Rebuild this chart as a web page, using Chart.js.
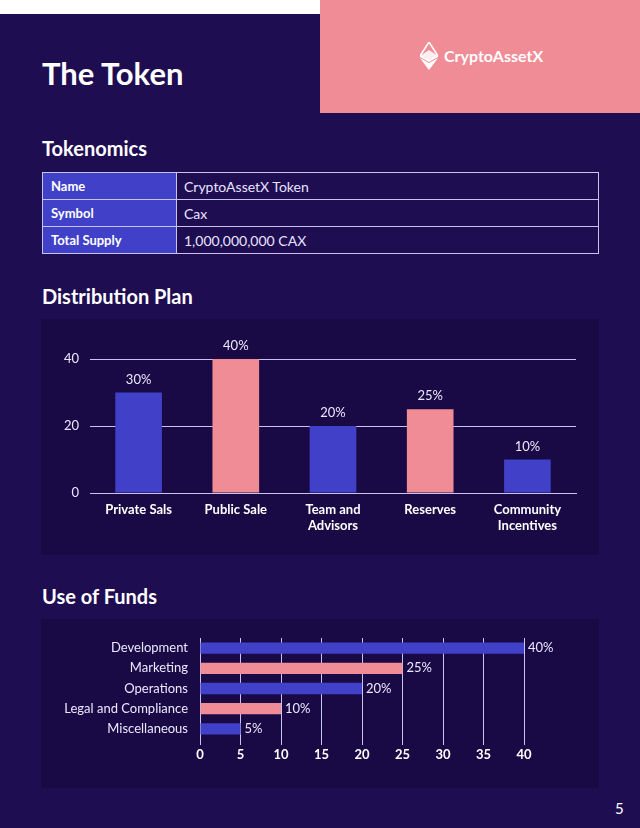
<!DOCTYPE html>
<html>
<head>
<meta charset="utf-8">
<script src="https://cdn.jsdelivr.net/npm/chart.js@4"></script>
<style>
  html, body { margin: 0; padding: 0; }
  body {
    width: 640px; height: 828px; position: relative; overflow: hidden;
    background: #1f0d52; font-family: "Lato", sans-serif; color: #fff;
  }
  .strip { position: absolute; left: 0; top: 0; width: 320px; height: 14px; background: #fff; }
  .brand { position: absolute; left: 320px; top: 0; width: 320px; height: 113px; background: #f08c96; }
  .brand svg { position: absolute; left: 100px; top: 42px; }
  .brand span { position: absolute; left: 124px; top: 46px; font-size: 16px; font-weight: 700; color: #fff; }
  h1 { position: absolute; left: 42px; top: 54px; margin: 0; font-size: 31px; font-weight: 700; }
  h2 { position: absolute; left: 42px; margin: 0; font-size: 20px; font-weight: 700; }
  table {
    position: absolute; left: 42px; top: 172px; width: 557px; border-collapse: collapse;
    font-size: 14px;
  }
  td { border: 1px solid #c8c2f0; height: 26px; padding: 0 8px; }
  td.k { background: #4040c8; font-weight: 700; width: 117px; font-size: 13px; }
  td.v { color: #e8e4ff; font-weight: 400; padding-left: 7px; }
  .panel { position: absolute; left: 41px; width: 558px; background: #190a45; }
  .pnum { position: absolute; left: 615px; top: 799px; font-size: 15px; color: #fff; }
</style>
</head>
<body>
<div class="strip"></div>
<div class="brand">
  <svg width="18" height="28" viewBox="0 0 18 28">
    <polygon points="9,0 18,14 9,19 0,14" fill="none" stroke="#fff" stroke-width="1.6"/>
    <polygon points="9,8 18,14 9,19 0,14" fill="#fff" opacity="0.85"/>
    <polygon points="0,16 9,21 18,16 9,28" fill="#fff"/>
  </svg>
  <span>CryptoAssetX</span>
</div>
<h1>The Token</h1>
<h2 style="top:136px">Tokenomics</h2>
<table>
  <tr><td class="k">Name</td><td class="v">CryptoAssetX Token</td></tr>
  <tr><td class="k">Symbol</td><td class="v">Cax</td></tr>
  <tr><td class="k">Total Supply</td><td class="v">1,000,000,000 CAX</td></tr>
</table>
<h2 style="top:284px">Distribution Plan</h2>
<div class="panel" style="top:319px;height:236px"><canvas id="chartDistribusi" width="558" height="236"></canvas></div>
<h2 style="top:584px">Use of Funds</h2>
<div class="panel" style="top:619px;height:169px"><canvas id="chartDana" width="558" height="169"></canvas></div>
<div class="pnum">5</div>

<script>
// ===== data =====
const distribusiLabels = ["Private Sals", "Public Sale", ["Team and", "Advisors"], "Reserves", ["Community", "Incentives"]];
const distribusiNilai = [30, 40, 20, 25, 10];
const distribusiTicks = [0, 20, 40];

const danaLabels = ["Development", "Marketing", "Operations", "Legal and Compliance", "Miscellaneous"];
const danaNilai = [40, 25, 20, 10, 5];
const danaTicks = [0, 5, 10, 15, 20, 25, 30, 35, 40];

const BIRU = "#4040c8";
const PINK = "#f08c96";
const GARIS = "#c9c3f0";
const TEKS = "#ece8ff";

const warnaSelang = (n) => Array.from({ length: n }, (_, i) => (i % 2 === 0 ? BIRU : PINK));

// plugin kecil untuk label persen di ujung batang
const labelPersen = {
  id: "labelPersen",
  afterDatasetsDraw(chart) {
    const { ctx } = chart;
    const horizontal = chart.options.indexAxis === "y";
    const meta = chart.getDatasetMeta(0);
    ctx.save();
    ctx.font = "400 13px Lato";
    ctx.fillStyle = TEKS;
    ctx.textBaseline = "middle";
    meta.data.forEach((bar, i) => {
      const teks = chart.data.datasets[0].data[i] + "%";
      if (horizontal) {
        ctx.textAlign = "left";
        ctx.fillText(teks, bar.x + 4, bar.y);
      } else {
        ctx.textAlign = "center";
        ctx.fillText(teks, bar.x, bar.y - 13);
      }
    });
    ctx.restore();
  },
};

Chart.defaults.font.family = "Lato";
Chart.defaults.color = TEKS;

// ===== grafik distribusi =====
new Chart(document.getElementById("chartDistribusi"), {
  type: "bar",
  data: {
    labels: distribusiLabels,
    datasets: [{
      data: distribusiNilai,
      backgroundColor: warnaSelang(distribusiNilai.length),
      barPercentage: 0.48,
      categoryPercentage: 1,
    }],
  },
  options: {
    responsive: false,
    animation: false,
    layout: { padding: { top: 40, right: 23, bottom: 0, left: 0 } },
    plugins: { legend: { display: false }, tooltip: { enabled: false } },
    scales: {
      x: {
        grid: { display: false },
        border: { display: true, color: GARIS, width: 1 },
        ticks: { color: "#fff", font: { size: 13, weight: "700" }, padding: 1, maxRotation: 0 },
        afterFit: (s) => { s.height = 62; },
      },
      y: {
        min: 0,
        max: 40,
        afterBuildTicks: (s) => { s.ticks = distribusiTicks.map((v) => ({ value: v })); },
        grid: { color: GARIS, drawTicks: false },
        border: { display: false },
        ticks: { font: { size: 13 }, padding: 11 },
        afterFit: (s) => { s.width = 49; },
      },
    },
  },
  plugins: [labelPersen],
});

// ===== grafik penggunaan dana =====
new Chart(document.getElementById("chartDana"), {
  type: "bar",
  data: {
    labels: danaLabels,
    datasets: [{
      data: danaNilai,
      backgroundColor: warnaSelang(danaNilai.length),
      barPercentage: 0.56,
      categoryPercentage: 1,
    }],
  },
  options: {
    indexAxis: "y",
    responsive: false,
    animation: false,
    layout: { padding: { top: 19, right: 75, bottom: 19, left: 0 } },
    plugins: { legend: { display: false }, tooltip: { enabled: false } },
    scales: {
      x: {
        min: 0,
        max: 40,
        afterBuildTicks: (s) => { s.ticks = danaTicks.map((v) => ({ value: v })); },
        grid: { color: GARIS, tickLength: 6 },
        border: { display: false },
        ticks: { color: "#fff", font: { size: 13, weight: "700" }, padding: 2 },
        afterFit: (s) => { s.height = 30; },
      },
      y: {
        grid: { display: false },
        border: { display: false },
        ticks: { font: { size: 13 }, padding: 4 },
        afterFit: (s) => { s.width = 159; },
      },
    },
  },
  plugins: [labelPersen],
});
</script>
</body>
</html>
